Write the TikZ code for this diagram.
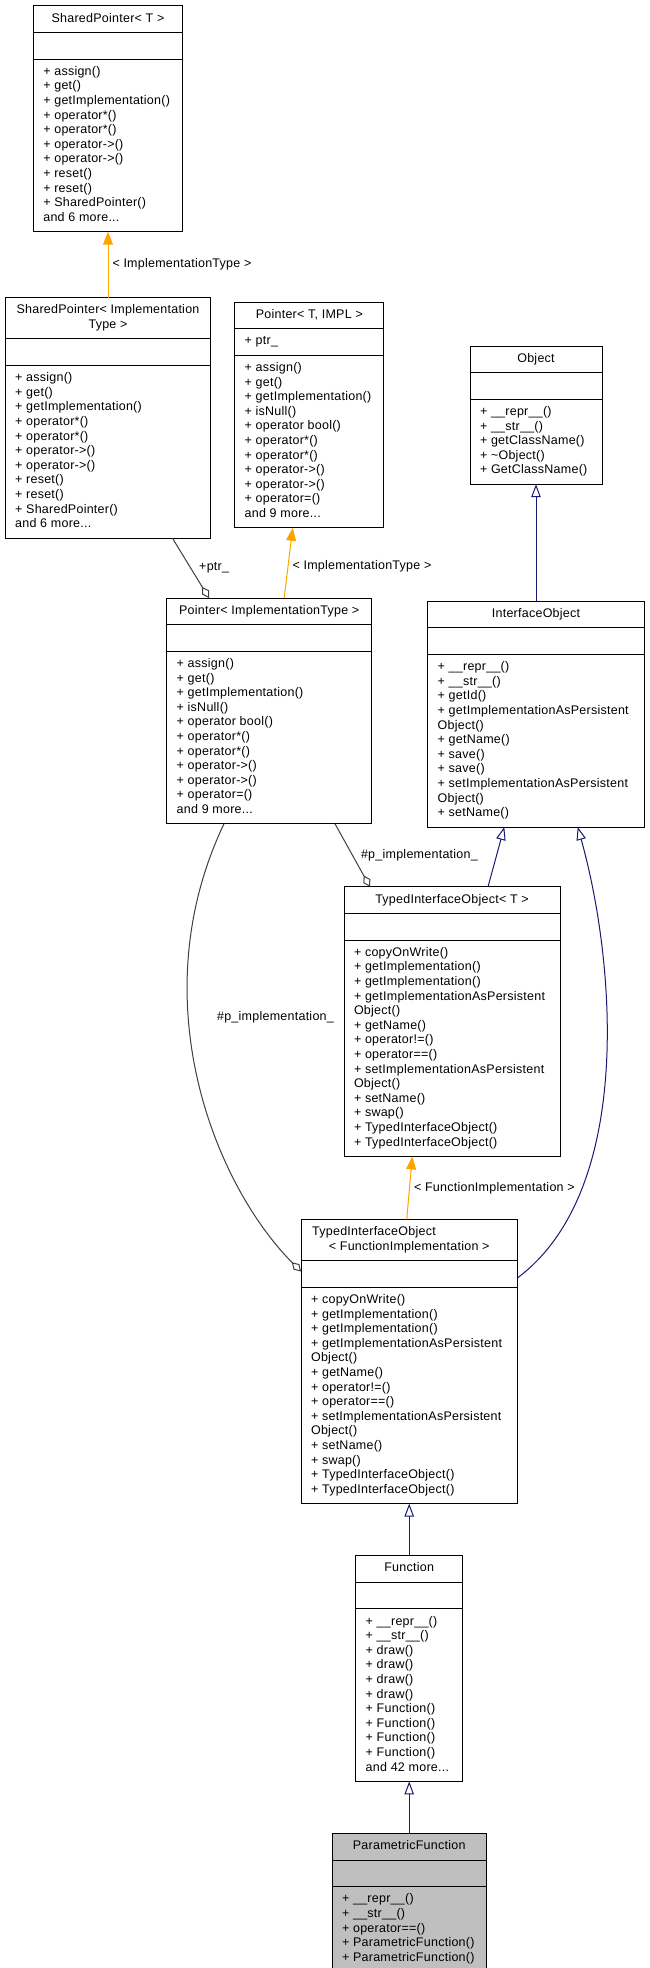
\documentclass[tikz,border=0pt]{standalone}
\usepackage{fontspec}
\setmainfont{Liberation Sans}[LetterSpace=2]
\usepackage{tikz}
\usetikzlibrary{arrows.meta,shapes.multipart,positioning}

\definecolor{midnight}{HTML}{191970}
\definecolor{grey25}{HTML}{404040}
\definecolor{grey75}{HTML}{BFBFBF}
\definecolor{templ}{HTML}{FFA500}

\newcommand{\clshead}[1]{\begin{tabular}{@{}c@{}}#1\end{tabular}}
\newcommand{\clsbody}[1]{\begin{tabular}{@{}l@{}}#1\end{tabular}}
\newcommand{\sharedops}{+ assign()\\+ get()\\+ getImplementation()\\+ operator*()\\+ operator*()\\+ operator->()\\+ operator->()\\+ reset()\\+ reset()\\+ SharedPointer()\\and 6 more...}
\newcommand{\pointerops}{+ assign()\\+ get()\\+ getImplementation()\\+ isNull()\\+ operator bool()\\+ operator*()\\+ operator*()\\+ operator->()\\+ operator->()\\+ operator=()\\and 9 more...}
\newcommand{\typedops}{+ copyOnWrite()\\+ getImplementation()\\+ getImplementation()\\+ getImplementationAsPersistent\\Object()\\+ getName()\\+ operator!=()\\+ operator==()\\+ setImplementationAsPersistent\\Object()\\+ setName()\\+ swap()\\+ TypedInterfaceObject()\\+ TypedInterfaceObject()}

\begin{document}
\begin{tikzpicture}[x=1pt,y=-1pt,font=\fontsize{12.5}{14.6}\selectfont,
  classbox/.style={draw=black,line width=1pt,fill=white,rectangle split,rectangle split parts=3,
    rectangle split part align={center,left,left},inner xsep=10pt,inner ysep=5.5pt,outer sep=0pt,anchor=north},
  current/.style={classbox,fill=grey75},
  inherit/.style={draw=midnight,line width=1pt,-{Triangle[open,length=13pt,width=9.5pt]}},
  tmpl/.style={draw=templ,line width=1pt,-{Triangle[length=13pt,width=10pt]}},
  usage/.style={draw=grey25,line width=1pt,-{Diamond[open,length=13pt,width=8pt]}},
  lbl/.style={right,inner sep=4pt,text=black}]
  \path[use as bounding box,fill=white] (0,0) rectangle (649,1968);

  \node[classbox,minimum width=149.4pt] (spT) at (108,5.9)
    {\clshead{SharedPointer< T >}\nodepart{second}\strut\nodepart{third}\clsbody{\sharedops}};
  \node[classbox,minimum width=205.7pt,below=66pt of spT] (spIT)
    {\clshead{SharedPointer< Implementation\\Type >}\nodepart{second}\strut\nodepart{third}\clsbody{\sharedops}};
  \node[classbox,minimum width=149.3pt] (ptrT) at (309.3,302)
    {\clshead{Pointer< T, IMPL >}\nodepart{second}\clsbody{+ ptr\_}\nodepart{third}\clsbody{\pointerops}};
  \node[classbox,minimum width=132pt] (obj) at (536,346)
    {\clshead{Object}\nodepart{second}\strut\nodepart{third}\clsbody{+ \_\_repr\_\_()\\+ \_\_str\_\_()\\+ getClassName()\\+ \textasciitilde Object()\\+ GetClassName()}};
  \node[classbox,minimum width=216.6pt,below=117pt of obj] (iface)
    {\clshead{InterfaceObject}\nodepart{second}\strut\nodepart{third}\clsbody{+ \_\_repr\_\_()\\+ \_\_str\_\_()\\+ getId()\\+ getImplementationAsPersistent\\Object()\\+ getName()\\+ save()\\+ save()\\+ setImplementationAsPersistent\\Object()\\+ setName()}};
  \node[classbox,minimum width=205pt] (ptrIT) at (269.2,598)
    {\clshead{Pointer< ImplementationType >}\nodepart{second}\strut\nodepart{third}\clsbody{\pointerops}};
  \node[classbox,minimum width=216pt] (tioT) at (452,886.8)
    {\clshead{TypedInterfaceObject< T >}\nodepart{second}\strut\nodepart{third}\clsbody{\typedops}};
  \node[classbox,minimum width=216.3pt] (tioFI) at (409.2,1219.4)
    {\clshead{\makebox[194pt][l]{TypedInterfaceObject}\\< FunctionImplementation >}\nodepart{second}\strut\nodepart{third}\clsbody{\typedops}};
  \node[classbox,minimum width=107pt,below=52pt of tioFI] (func)
    {\clshead{Function}\nodepart{second}\strut\nodepart{third}\clsbody{+ \_\_repr\_\_()\\+ \_\_str\_\_()\\+ draw()\\+ draw()\\+ draw()\\+ draw()\\+ Function()\\+ Function()\\+ Function()\\+ Function()\\and 42 more...}};
  \node[current,minimum width=154.3pt,below=52pt of func] (pf)
    {\clshead{ParametricFunction}\nodepart{second}\strut\nodepart{third}\clsbody{+ \_\_repr\_\_()\\+ \_\_str\_\_()\\+ operator==()\\+ ParametricFunction()\\+ ParametricFunction()}};

  \path
(spIT.north) edge[tmpl] node[lbl] {< ImplementationType >} (spT.south)
([xshift=15pt]ptrIT.north) edge[tmpl] node[lbl,pos=0.45] {< ImplementationType >} ([xshift=-16.6pt]ptrT.south)
(iface.north) edge[inherit] (obj.south)
([xshift=64.4pt]spIT.south) edge[usage] node[lbl,xshift=4pt] {+ptr\_} ([xshift=-60.2pt]ptrIT.north)
([xshift=65.8pt]ptrIT.south) edge[usage] node[lbl,xshift=4pt] {\#p\_implementation\_} ([xshift=-82pt]tioT.north)
([xshift=36pt]tioT.north) edge[inherit] ([xshift=-31.7pt]iface.south)
([xshift=-2.5pt]tioFI.north) edge[tmpl] node[lbl] {< FunctionImplementation >} ([xshift=-39.7pt]tioT.south)
(func.north) edge[inherit] (tioFI.south)
(pf.north) edge[inherit] (func.south)
;
  \draw[usage] ([xshift=-45.2pt]ptrIT.south) .. controls (140,1000) and (215,1185) .. ([yshift=-52.1pt]tioFI.north west)
    node[lbl,pos=0.37,xshift=24pt] {\#p\_implementation\_};
  \draw[inherit] ([yshift=-58.6pt]tioFI.north east) .. controls (635,1190) and (615,960) .. ([xshift=41.7pt]iface.south);
\end{tikzpicture}
\end{document}
